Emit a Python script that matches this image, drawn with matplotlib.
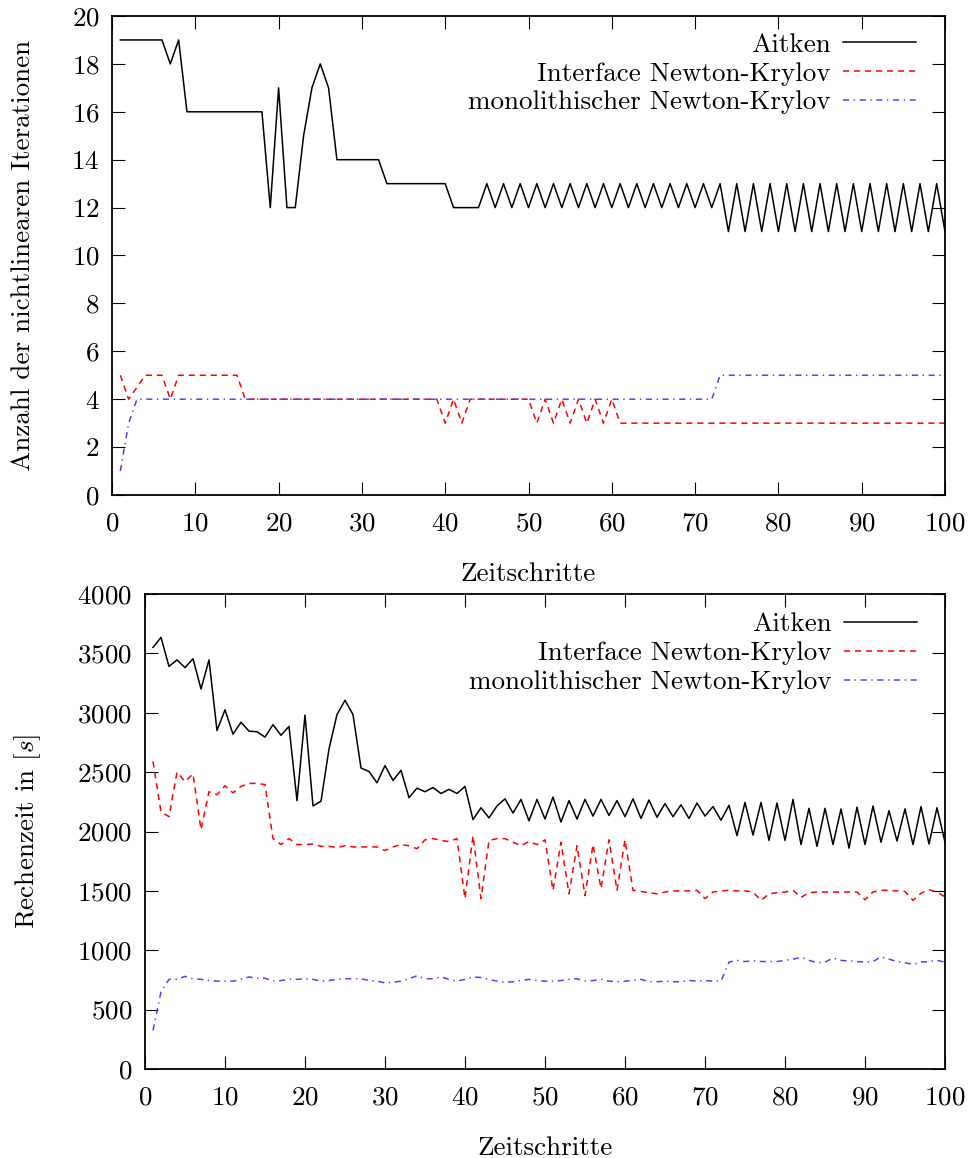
"""
Vergleich Aitken / Interface Newton-Krylov / monolithischer Newton-Krylov
oben  : Anzahl der nichtlinearen Iterationen pro Zeitschritt
unten : Rechenzeit pro Zeitschritt in [s]
"""

import matplotlib
matplotlib.use('Agg')
import matplotlib.pyplot as plt


# ── Daten ────────────────────────────────────────────────────────────────────

steps = list(range(1, 101))

iter_aitken = [
    19, 19, 19, 19, 19, 19, 18, 19, 16, 16,
    16, 16, 16, 16, 16, 16, 16, 16, 12, 17,
    12, 12, 15, 17, 18, 17, 14, 14, 14, 14,
    14, 14, 13, 13, 13, 13, 13, 13, 13, 13,
    12, 12, 12, 12, 13, 12, 13, 12, 13, 12,
    13, 12, 13, 12, 13, 12, 13, 12, 13, 12,
    13, 12, 13, 12, 13, 12, 13, 12, 13, 12,
    13, 12, 13, 11, 13, 11, 13, 11, 13, 11,
    13, 11, 13, 11, 13, 11, 13, 11, 13, 11,
    13, 11, 13, 11, 13, 11, 13, 11, 13, 11,
]
iter_ink = [
    5, 4, 4.5, 5, 5, 5, 4, 5, 5, 5,
    5, 5, 5, 5, 5, 4, 4, 4, 4, 4,
    4, 4, 4, 4, 4, 4, 4, 4, 4, 4,
    4, 4, 4, 4, 4, 4, 4, 4, 4, 3,
    4, 3, 4, 4, 4, 4, 4, 4, 4, 4,
    3, 4, 3, 4, 3, 4, 3, 4, 3, 4,
    3, 3, 3, 3, 3, 3, 3, 3, 3, 3,
    3, 3, 3, 3, 3, 3, 3, 3, 3, 3,
    3, 3, 3, 3, 3, 3, 3, 3, 3, 3,
    3, 3, 3, 3, 3, 3, 3, 3, 3, 3,
]
iter_mono = [
    1, 3, 4, 4, 4, 4, 4, 4, 4, 4,
    4, 4, 4, 4, 4, 4, 4, 4, 4, 4,
    4, 4, 4, 4, 4, 4, 4, 4, 4, 4,
    4, 4, 4, 4, 4, 4, 4, 4, 4, 4,
    4, 4, 4, 4, 4, 4, 4, 4, 4, 4,
    4, 4, 4, 4, 4, 4, 4, 4, 4, 4,
    4, 4, 4, 4, 4, 4, 4, 4, 4, 4,
    4, 4, 5, 5, 5, 5, 5, 5, 5, 5,
    5, 5, 5, 5, 5, 5, 5, 5, 5, 5,
    5, 5, 5, 5, 5, 5, 5, 5, 5, 5,
]

time_aitken = [
    3550, 3635, 3390, 3445, 3380, 3455, 3200, 3445, 2850, 3025,
    2820, 2920, 2845, 2840, 2795, 2900, 2810, 2885, 2260, 2980,
    2215, 2255, 2695, 2985, 3105, 2985, 2535, 2505, 2410, 2555,
    2430, 2515, 2285, 2365, 2335, 2370, 2320, 2355, 2320, 2380,
    2100, 2200, 2115, 2215, 2275, 2155, 2270, 2090, 2270, 2105,
    2290, 2080, 2260, 2105, 2270, 2130, 2270, 2135, 2260, 2125,
    2275, 2110, 2265, 2120, 2235, 2125, 2225, 2110, 2240, 2130,
    2210, 2095, 2220, 1965, 2245, 1970, 2245, 1925, 2240, 1925,
    2270, 1890, 2195, 1875, 2195, 1890, 2190, 1860, 2205, 1890,
    2215, 1910, 2175, 1920, 2190, 1890, 2210, 1895, 2200, 1910,
]
time_ink = [
    2590, 2165, 2125, 2500, 2420, 2485, 2015, 2335, 2310, 2385,
    2325, 2380, 2405, 2405, 2395, 1940, 1890, 1940, 1890, 1890,
    1895, 1875, 1875, 1865, 1880, 1870, 1870, 1870, 1870, 1840,
    1870, 1890, 1880, 1855, 1930, 1940, 1925, 1915, 1940, 1435,
    1965, 1435, 1925, 1940, 1940, 1910, 1880, 1915, 1890, 1930,
    1505, 1910, 1475, 1880, 1460, 1890, 1520, 1930, 1505, 1930,
    1505, 1495, 1485, 1475, 1490, 1500, 1500, 1500, 1505, 1435,
    1490, 1500, 1505, 1500, 1500, 1490, 1420, 1475, 1485, 1490,
    1505, 1445, 1485, 1490, 1490, 1490, 1490, 1490, 1490, 1425,
    1490, 1505, 1505, 1500, 1495, 1420, 1480, 1510, 1490, 1450,
]
time_mono = [
    325, 650, 755, 755, 780, 760, 755, 745, 740, 740,
    740, 755, 775, 765, 765, 740, 745, 755, 755, 760,
    755, 740, 745, 755, 760, 760, 760, 745, 740, 725,
    730, 740, 760, 785, 760, 760, 775, 755, 740, 755,
    775, 770, 755, 740, 730, 735, 745, 755, 745, 740,
    740, 745, 755, 760, 740, 745, 755, 740, 735, 740,
    745, 755, 735, 735, 740, 735, 735, 745, 740, 745,
    740, 740, 900, 915, 905, 910, 905, 905, 905, 915,
    925, 940, 915, 895, 900, 935, 915, 910, 905, 900,
    905, 945, 925, 905, 895, 880, 900, 905, 915, 900,
]

labels = ['Aitken', 'Interface Newton-Krylov', 'monolithischer Newton-Krylov']


# ── Stil ─────────────────────────────────────────────────────────────────────

plt.rcParams['font.family'] = ['cmr10', 'DejaVu Serif']
plt.rcParams['mathtext.fontset'] = 'cm'
plt.rcParams['axes.formatter.use_mathtext'] = True
plt.rcParams['font.size'] = 19.5

STYLES = [
    dict(color='black', lw=1.1, ls='-'),
    dict(color='#ff0000', lw=1.1, dashes=(4.0, 3.2)),
    dict(color='#4646ff', lw=1.1, dashes=(4.0, 3.0, 0.9, 3.0)),
]


def style_axes(ax, ymax, ystep):
    ax.set_xlim(0, 100)
    ax.set_ylim(0, ymax)
    ax.set_xticks(range(0, 101, 10))
    ax.set_yticks(range(0, ymax + 1, ystep))
    ax.tick_params(direction='in', length=9.5, width=0.8,
                   top=True, right=True)
    ax.tick_params(axis='x', pad=12)
    ax.tick_params(axis='y', pad=9)
    for sp in ax.spines.values():
        sp.set_linewidth(1.3)
    ax.set_xlabel('Zeitschritte', labelpad=19)


def add_legend(ax, ytop):
    ax.legend(loc='upper right', bbox_to_anchor=(0.965, ytop),
              frameon=False, markerfirst=False, borderaxespad=0,
              borderpad=0, handlelength=2.7, handletextpad=0.45,
              labelspacing=0.18)


fig = plt.figure(figsize=(9.68, 11.58), dpi=100)

# ── oben: Iterationen ────────────────────────────────────────────────────────
ax1 = fig.add_axes([112 / 968, 1 - 495 / 1158, 833 / 968, 479 / 1158])
for y, lab, st in zip([iter_aitken, iter_ink, iter_mono], labels, STYLES):
    ax1.plot(steps, y, label=lab, **st)
style_axes(ax1, 20, 2)
ax1.set_ylabel('Anzahl der nichtlinearen Iterationen', labelpad=26)
add_legend(ax1, 0.965)

# ── unten: Rechenzeit ────────────────────────────────────────────────────────
ax2 = fig.add_axes([145 / 968, 1 - 1069 / 1158, 800 / 968, 475 / 1158])
for y, lab, st in zip([time_aitken, time_ink, time_mono], labels, STYLES):
    ax2.plot(steps, y, label=lab, **st)
style_axes(ax2, 4000, 500)
ax2.set_ylabel('Rechenzeit in $[s]$', labelpad=25)
add_legend(ax2, 0.961)

fig.savefig('out.png', dpi=100)
